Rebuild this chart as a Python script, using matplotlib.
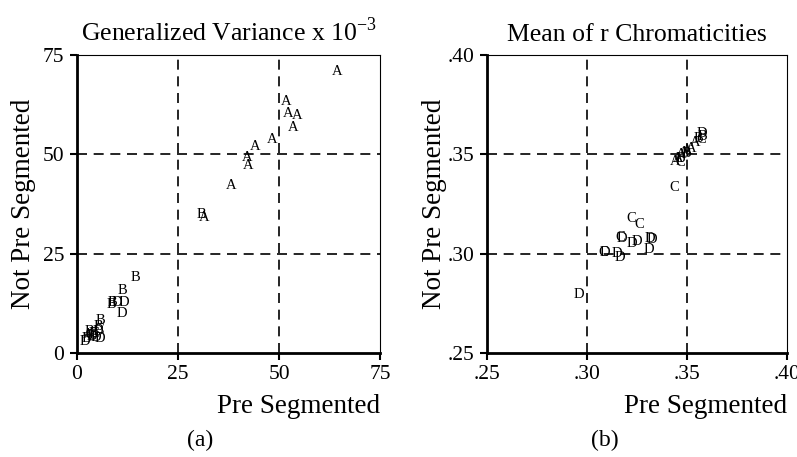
import numpy as np
import matplotlib
matplotlib.use("Agg")
from matplotlib import pyplot as plt
from matplotlib.ticker import FuncFormatter

plt.rcParams['font.family'] = ['Liberation Serif', 'DejaVu Serif']
plt.rcParams['mathtext.fontset'] = 'custom'
plt.rcParams['mathtext.rm'] = 'Liberation Serif'

# (a) generalized variance x 10^-3
gv_lab = ['A', 'A', 'A', 'A', 'A', 'A', 'A', 'A', 'A', 'A', 'A',
          'B', 'B', 'B', 'B', 'B', 'B', 'B', 'B', 'B', 'B',
          'D', 'D', 'D', 'D', 'D', 'D', 'D', 'D',
          'C', 'C', 'C', 'A']
gv_pre = [64.3, 51.7, 52.3, 54.5, 53.5, 48.4, 44.2, 42.1, 42.4, 38.1, 31.6,
          30.9, 14.5, 11.2, 8.5, 8.9, 5.9, 5.4, 3.1, 2.3, 4.0,
          9.9, 11.6, 11.0, 5.6, 5.2, 1.9, 3.8, 4.6,
          5.6, 4.2, 3.3, 2.7]
gv_not = [70.8, 63.3, 60.4, 59.7, 56.7, 53.7, 52.1, 49.3, 47.2, 42.2, 34.2,
          34.8, 19.1, 15.7, 12.2, 12.6, 8.1, 6.6, 5.4, 3.6, 4.8,
          12.7, 12.7, 10.0, 3.7, 5.4, 2.9, 4.2, 3.9,
          6.0, 5.0, 4.3, 4.6]

# (b) mean of r chromaticities
rc_lab = ['C', 'C', 'C', 'C', 'C', 'C', 'C',
          'D', 'D', 'D', 'D', 'D', 'D', 'D', 'D', 'D', 'D', 'D',
          'A', 'A', 'A', 'A', 'A', 'A', 'A',
          'B', 'B', 'B', 'B']
rc_pre = [0.3437, 0.3225, 0.3261, 0.3170, 0.3085, 0.3470, 0.3572,
          0.3175, 0.3228, 0.3250, 0.3325, 0.3318, 0.3313, 0.3092, 0.3150, 0.3167, 0.2963, 0.3577,
          0.3440, 0.3455, 0.3470, 0.3485, 0.3500, 0.3520, 0.3540,
          0.3470, 0.3500, 0.3560, 0.3580]
rc_not = [0.3335, 0.3179, 0.3145, 0.3082, 0.3006, 0.3460, 0.3575,
          0.3078, 0.3053, 0.3061, 0.3073, 0.3076, 0.3020, 0.3006, 0.3003, 0.2983, 0.2793, 0.3605,
          0.3465, 0.3480, 0.3500, 0.3510, 0.3520, 0.3530, 0.3560,
          0.3480, 0.3505, 0.3580, 0.3590]


def style_axes(ax, lims, ticks, grid_at, fmt=None):
    ax.set_xlim(lims)
    ax.set_ylim(lims)
    ax.set_xticks(ticks)
    ax.set_yticks(ticks)
    if fmt is not None:
        ax.xaxis.set_major_formatter(FuncFormatter(fmt))
        ax.yaxis.set_major_formatter(FuncFormatter(fmt))
    for g in grid_at:
        ax.axvline(g, color='k', lw=1.2, ls=(0, (6, 4)), zorder=1)
        ax.axhline(g, color='k', lw=1.2, ls=(0, (6, 4)), zorder=1)
    for s in ['left', 'bottom']:
        ax.spines[s].set_linewidth(2.0)
    for s in ['top', 'right']:
        ax.spines[s].set_linewidth(0.8)
    ax.tick_params(direction='out', length=5, width=1.5, labelsize=15.5, pad=4,
                   top=False, right=False)


def letters(ax, xs, ys, labs):
    for x, y, t in zip(xs, ys, labs):
        ax.text(x, y, t, ha='center', va='center', fontsize=10.5, zorder=3)


fig = plt.figure(figsize=(7.97, 4.57), dpi=100)
ax1 = fig.add_axes([0.0966, 0.2276, 0.3802, 0.652])
ax2 = fig.add_axes([0.6106, 0.2276, 0.3765, 0.652])

style_axes(ax1, (0, 75), [0, 25, 50, 75], [25, 50])
letters(ax1, gv_pre, gv_not, gv_lab)
ax1.set_title(r'Generalized Variance x 10$^{\mathregular{-3}}$', fontsize=18.5, pad=10)

style_axes(ax2, (0.25, 0.40), [0.25, 0.30, 0.35, 0.40], [0.30, 0.35],
           fmt=lambda v, p: ('%.2f' % v)[1:])
letters(ax2, rc_pre, rc_not, rc_lab)
ax2.set_title('Mean of r Chromaticities', fontsize=18.5, pad=10)

for ax in (ax1, ax2):
    ax.text(1.0, -0.18, 'Pre Segmented', transform=ax.transAxes,
            ha='right', va='center', fontsize=19.5)
    ax.set_ylabel('Not Pre Segmented', fontsize=19.5)
ax1.yaxis.set_label_coords(-0.136, 0.5)
ax2.yaxis.set_label_coords(-0.132, 0.5)

fig.text(200 / 797, 1 - 440 / 457, '(a)', ha='center', va='center', fontsize=17)
fig.text(605 / 797, 1 - 440 / 457, '(b)', ha='center', va='center', fontsize=17)

fig.savefig('out.png', dpi=100)
